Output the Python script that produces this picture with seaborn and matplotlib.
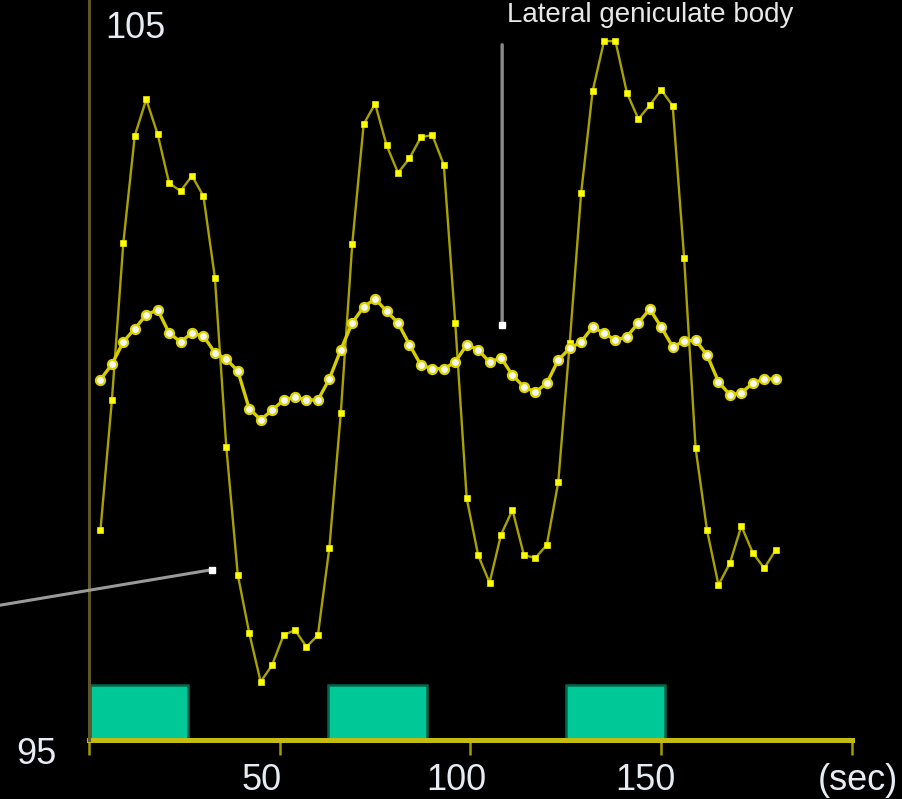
import matplotlib
matplotlib.use("Agg")
import matplotlib.pyplot as plt
from matplotlib.transforms import ScaledTranslation
import seaborn as sns

# Sampling times (s), one volume every 3 s
time_s = [3, 6, 9, 12, 15, 18, 21, 24, 27, 30, 33, 36, 39, 42, 45, 48, 51, 54, 57, 60,
          63, 66, 69, 72, 75, 78, 81, 84, 87, 90, 93, 96, 99, 102, 105, 108, 111, 114, 117, 120,
          123, 126, 129, 132, 135, 138, 141, 144, 147, 150, 153, 156, 159, 162, 165, 168, 171, 174, 177, 180]

# Visual cortex response (% of baseline)
cortex = [97.88, 99.67, 101.83, 103.30, 103.80, 103.32, 102.65, 102.54, 102.75, 102.47,
          101.35, 99.02, 97.27, 96.47, 95.80, 96.03, 96.44, 96.51, 96.28, 96.44,
          97.64, 99.49, 101.81, 103.46, 103.74, 103.17, 102.79, 102.99, 103.28, 103.31,
          102.90, 100.73, 98.32, 97.54, 97.16, 97.82, 98.16, 97.54, 97.50, 97.68,
          98.54, 100.45, 102.51, 103.91, 104.60, 104.60, 103.89, 103.53, 103.72, 103.93,
          103.71, 101.62, 99.01, 97.88, 97.13, 97.43, 97.94, 97.57, 97.36, 97.61]

# Lateral geniculate body response (% of baseline)
lgb = [99.95, 100.16, 100.47, 100.65, 100.84, 100.91, 100.59, 100.47, 100.59, 100.55,
       100.32, 100.23, 100.07, 99.55, 99.40, 99.53, 99.67, 99.71, 99.67, 99.67,
       99.96, 100.36, 100.73, 100.95, 101.06, 100.89, 100.73, 100.43, 100.15, 100.10,
       100.10, 100.19, 100.43, 100.36, 100.19, 100.25, 100.01, 99.85, 99.78, 99.90,
       100.22, 100.38, 100.47, 100.67, 100.59, 100.49, 100.54, 100.73, 100.92, 100.67,
       100.40, 100.48, 100.49, 100.29, 99.92, 99.74, 99.77, 99.90, 99.96, 99.96]

# Stimulation blocks
stim_start = [0.3, 62.7, 125.0]
stim_length = [25.7, 25.9, 26.0]
stim_height = 0.755

x_ticks = [0, 50, 100, 150, 200]
x_tick_labels = ["", "50", "100", "150", "(sec)"]
y_ticks = [95, 105]
y_tick_labels = ["95", "105"]

title_text = "Lateral geniculate body"

sns.set_style("dark", {"axes.facecolor": "black", "figure.facecolor": "black"})
plt.rcParams["font.family"] = ["Liberation Sans", "DejaVu Sans"]

fig = plt.figure(figsize=(9.03, 7.99), dpi=100, facecolor="black")
ax = fig.add_axes([89 / 903, 59 / 799, 763 / 903, 740 / 799])
ax.set_facecolor("black")
ax.grid(False)

# stimulus bars along the time axis
for s, w in zip(stim_start, stim_length):
    ax.bar(s, stim_height, width=w, bottom=95, align="edge",
           color="#00c896", edgecolor="#00684e", linewidth=1.8, zorder=1)

sns.lineplot(x=time_s, y=cortex, ax=ax, color="#aaa200", lw=1.7,
             marker="s", markersize=5, markerfacecolor="#ffff00",
             markeredgecolor="#f0f000", markeredgewidth=0.5, zorder=3)
sns.lineplot(x=time_s, y=lgb, ax=ax, color="#d6ce00", lw=2.4,
             marker="o", markersize=6.5, markerfacecolor="#f6f6f0",
             markeredgecolor="#dcd400", markeredgewidth=1.6, zorder=4)

# pointer lines
ax.annotate("", xy=(108.3, 100.70), xytext=(108.3, 104.55),
            arrowprops=dict(arrowstyle="-", color="#8a8a8a", lw=2.4,
                            shrinkA=0, shrinkB=0), annotation_clip=False, zorder=5)
ax.annotate("", xy=(32.3, 97.34), xytext=(-23.5, 96.85),
            arrowprops=dict(arrowstyle="-", color="#9a9a9a", lw=2.2,
                            shrinkA=0, shrinkB=0), annotation_clip=False, zorder=5)
ax.plot([108.3, 32.3], [100.70, 97.34], ls="none", marker="s", markersize=4.5,
        color="#ffffff", zorder=6, clip_on=False)

ax.set_xlim(0, 200)
ax.set_ylim(95, 95 + 740 / 72.8)

for side in ("top", "right"):
    ax.spines[side].set_visible(False)
ax.spines["left"].set_color("#5e5628")
ax.spines["left"].set_linewidth(2.2)
ax.spines["bottom"].set_color("#c4bc10")
ax.spines["bottom"].set_linewidth(3.6)
ax.spines["bottom"].set_zorder(2)

ax.set_xticks(x_ticks)
ax.set_xticklabels(x_tick_labels)
ax.set_yticks(y_ticks)
ax.set_yticklabels(y_tick_labels)
ax.tick_params(axis="x", bottom=True, direction="out", length=11, width=1.8,
               color="#a39b00", labelcolor="#e6ecf2", labelsize=26, pad=5.5)
ax.tick_params(axis="y", left=False, length=0, labelcolor="#e6ecf2", labelsize=26, pad=0)

x_shift = [0, -18, -14, -16, 6]
for lab, dx in zip(ax.get_xticklabels(), x_shift):
    lab.set_transform(lab.get_transform() + ScaledTranslation(dx / 100, 0, fig.dpi_scale_trans))

ylabs = ax.get_yticklabels()
ylabs[0].set_transform(ylabs[0].get_transform() + ScaledTranslation(-32 / 100, -10 / 100, fig.dpi_scale_trans))
ylabs[1].set_horizontalalignment("left")
ylabs[1].set_transform(ylabs[1].get_transform() + ScaledTranslation(16 / 100, -12 / 100, fig.dpi_scale_trans))

# label of the vertical pointer, along the top edge
fig.text(650 / 903, 1 - 2 / 799, title_text, fontsize=20, color="#e8e8e8",
         ha="center", va="top")

fig.savefig("out.png", dpi=100, facecolor="black")
